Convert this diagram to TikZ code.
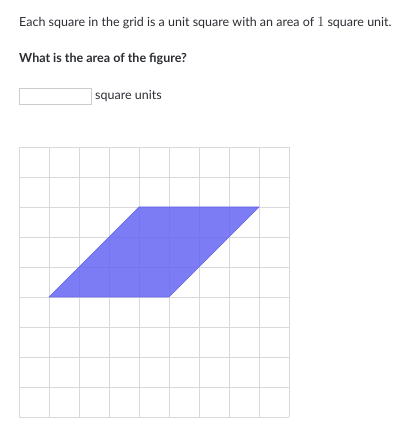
\documentclass[tikz,border=0pt]{standalone}
\usepackage{fontspec}
\setmainfont{Lato}
\usepackage{tikz}

\definecolor{txtgray}{HTML}{2B2D33}
\definecolor{gridgray}{HTML}{D9D9DC}
\definecolor{boxgray}{HTML}{CCCCCC}
\definecolor{shapeblue}{HTML}{6868F2}
\definecolor{edgeblue}{HTML}{6A6AE6}

\tikzset{
	txt/.style={anchor=base west, inner sep=0pt, text=txtgray, font=\fontsize{12.5}{15}\selectfont},
	answerbox/.style={draw=boxgray, line width=0.8pt, fill=white}
}

\begin{document}
\begin{tikzpicture}[x=1pt, y=1pt]
	\useasboundingbox (0, 0) rectangle (410, 430);

	\node[txt] (intro) at (19, 403) {Each square in the grid is a unit square with an area of {\fontsize{15}{15}\selectfont$1$} square unit.};
	\node[txt, font=\fontsize{12.5}{15}\selectfont\bfseries] (ask) at (19, 367) {What is the area of the figure?};
	\node[answerbox, minimum width=72pt, minimum height=16pt, anchor=north west, inner sep=0pt] (box) at (19, 342) {};
	\node[txt] (unit) at (95, 330) {square units};

	% grid of unit squares
	\begin{scope}[shift={(19, 13)}, x=30pt, y=30pt]
		\draw[gridgray, line width=0.9pt, step=1] (0, 0) grid (9, 9);
		\coordinate (p1) at (1, 4);
		\coordinate (p2) at (5, 4);
		\coordinate (p3) at (8, 7);
		\coordinate (p4) at (4, 7);
		\fill[shapeblue, fill opacity=0.87, draw=edgeblue, line width=0.6pt, line join=miter] (p1) -- (p2) -- (p3) -- (p4) -- cycle;
	\end{scope}
\end{tikzpicture}
\end{document}
